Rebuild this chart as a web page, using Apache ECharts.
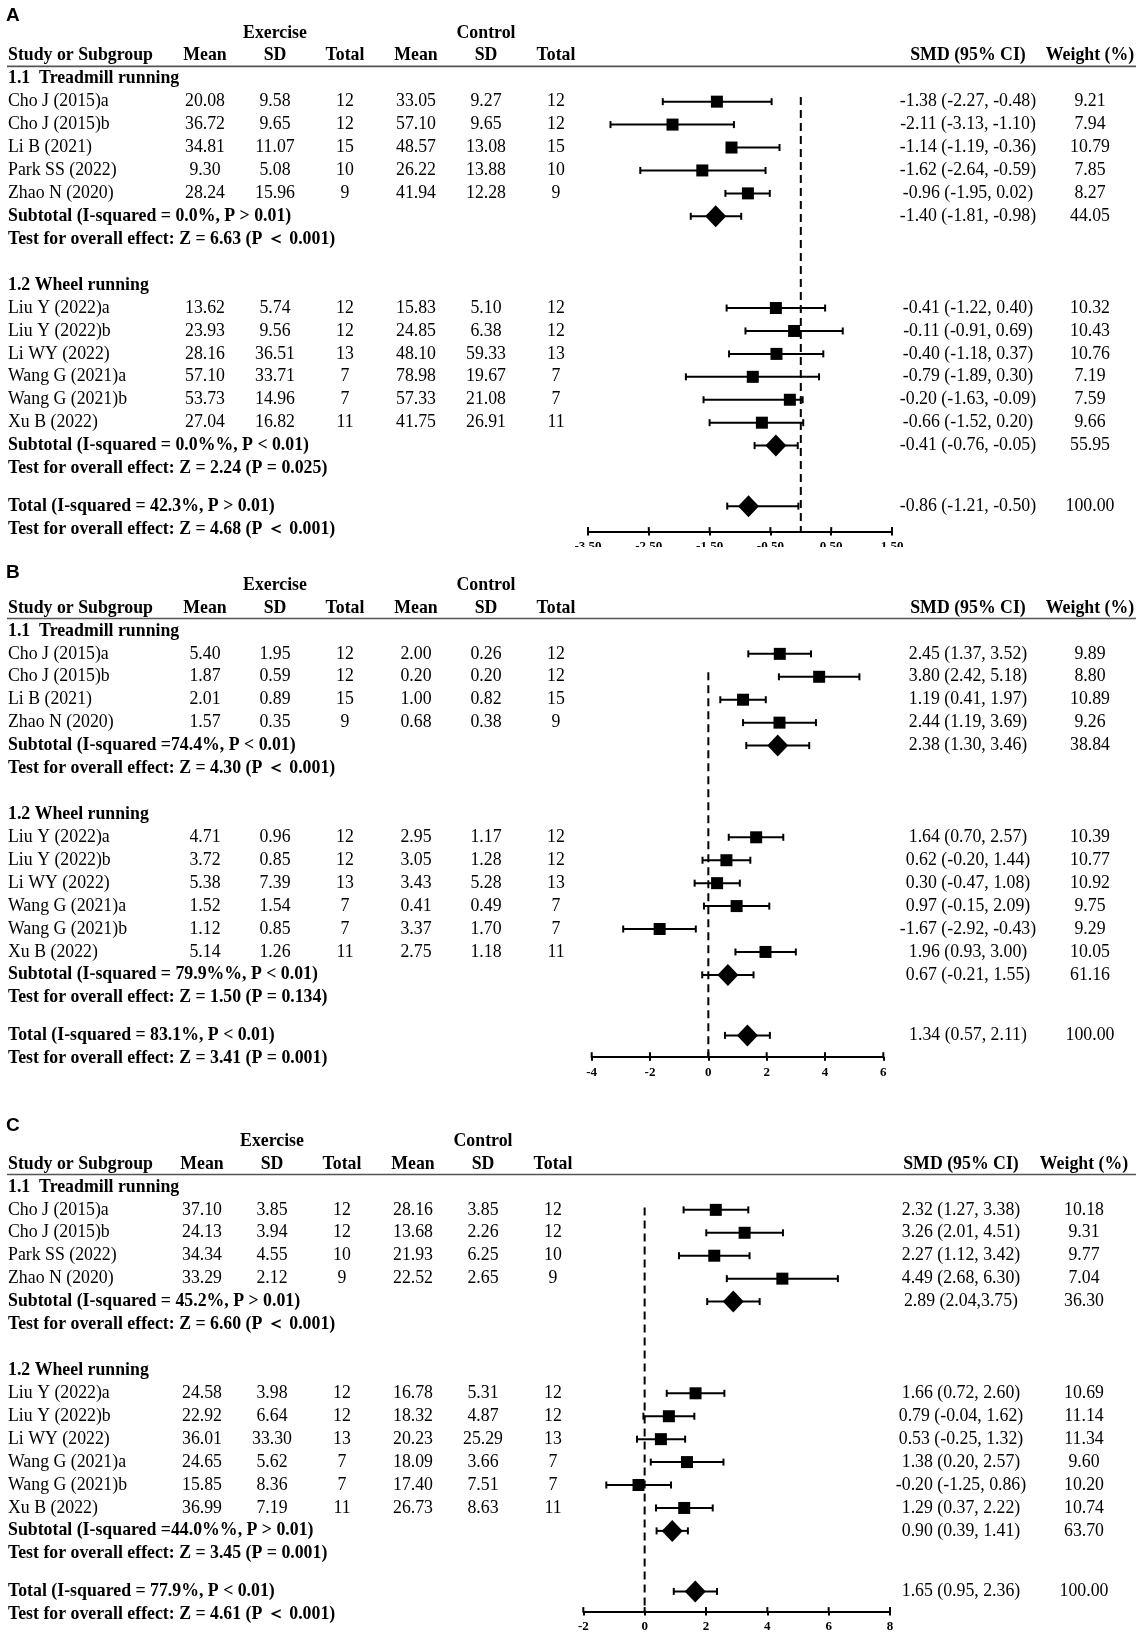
<!DOCTYPE html>
<html lang="en">
<head>
<meta charset="utf-8">
<title>Forest plot</title>
<script src="https://cdn.jsdelivr.net/npm/echarts@6/dist/echarts.min.js"></script>
<style>
    html, body { margin: 0; padding: 0; background: #ffffff; }
    #chart { width: 1139px; height: 1637px; }
</style>
</head>
<body>
<div id="chart"></div>
<script type="text/javascript">
// ---------- panel A ----------
var studiesA = ['Cho J (2015)a', 'Cho J (2015)b', 'Li B (2021)', 'Park SS (2022)', 'Zhao N (2020)',
    'Liu Y (2022)a', 'Liu Y (2022)b', 'Li WY (2022)', 'Wang G (2021)a', 'Wang G (2021)b', 'Xu B (2022)'];
var treadCountA = 5;
var exMeanA = ['20.08', '36.72', '34.81', '9.30', '28.24', '13.62', '23.93', '28.16', '57.10', '53.73', '27.04'];
var exSdA = ['9.58', '9.65', '11.07', '5.08', '15.96', '5.74', '9.56', '36.51', '33.71', '14.96', '16.82'];
var exNA = ['12', '12', '15', '10', '9', '12', '12', '13', '7', '7', '11'];
var ctMeanA = ['33.05', '57.10', '48.57', '26.22', '41.94', '15.83', '24.85', '48.10', '78.98', '57.33', '41.75'];
var ctSdA = ['9.27', '9.65', '13.08', '13.88', '12.28', '5.10', '6.38', '59.33', '19.67', '21.08', '26.91'];
var ctNA = ['12', '12', '15', '10', '9', '12', '12', '13', '7', '7', '11'];
var smdTextA = ['-1.38 (-2.27, -0.48)', '-2.11 (-3.13, -1.10)', '-1.14 (-1.19, -0.36)', '-1.62 (-2.64, -0.59)',
    '-0.96 (-1.95, 0.02)', '-0.41 (-1.22, 0.40)', '-0.11 (-0.91, 0.69)', '-0.40 (-1.18, 0.37)',
    '-0.79 (-1.89, 0.30)', '-0.20 (-1.63, -0.09)', '-0.66 (-1.52, 0.20)'];
var weightA = ['9.21', '7.94', '10.79', '7.85', '8.27', '10.32', '10.43', '10.76', '7.19', '7.59', '9.66'];
// where the marks sit in the drawing (a few differ from the printed numbers)
var estA = [-1.38, -2.11, -1.14, -1.62, -0.87, -0.41, -0.11, -0.40, -0.79, -0.18, -0.64];
var loA = [-2.27, -3.13, -1.20, -2.64, -1.24, -1.22, -0.91, -1.18, -1.89, -1.60, -1.50];
var hiA = [-0.48, -1.10, -0.35, -0.58, -0.51, 0.40, 0.69, 0.37, 0.30, 0.03, 0.04];
var pooledLabelA = ['Subtotal (I-squared = 0.0%, P > 0.01)', 'Subtotal (I-squared = 0.0%%, P < 0.01)', 'Total (I-squared = 42.3%, P > 0.01)'];
var testLabelA = ['Test for overall effect: Z = 6.63 (P ＜ 0.001)', 'Test for overall effect: Z = 2.24 (P = 0.025)', 'Test for overall effect: Z = 4.68 (P ＜ 0.001)'];
var pooledSmdA = ['-1.40 (-1.81, -0.98)', '-0.41 (-0.76, -0.05)', '-0.86 (-1.21, -0.50)'];
var pooledWeightA = ['44.05', '55.95', '100.00'];
var pooledEstA = [-1.40, -0.41, -0.86];
var pooledLoA = [-1.81, -0.76, -1.21];
var pooledHiA = [-0.98, -0.05, -0.04];
var ticksA = [-3.5, -2.5, -1.5, -0.5, 0.5, 1.5];

// ---------- panel B ----------
var studiesB = ['Cho J (2015)a', 'Cho J (2015)b', 'Li B (2021)', 'Zhao N (2020)',
    'Liu Y (2022)a', 'Liu Y (2022)b', 'Li WY (2022)', 'Wang G (2021)a', 'Wang G (2021)b', 'Xu B (2022)'];
var treadCountB = 4;
var exMeanB = ['5.40', '1.87', '2.01', '1.57', '4.71', '3.72', '5.38', '1.52', '1.12', '5.14'];
var exSdB = ['1.95', '0.59', '0.89', '0.35', '0.96', '0.85', '7.39', '1.54', '0.85', '1.26'];
var exNB = ['12', '12', '15', '9', '12', '12', '13', '7', '7', '11'];
var ctMeanB = ['2.00', '0.20', '1.00', '0.68', '2.95', '3.05', '3.43', '0.41', '3.37', '2.75'];
var ctSdB = ['0.26', '0.20', '0.82', '0.38', '1.17', '1.28', '5.28', '0.49', '1.70', '1.18'];
var ctNB = ['12', '12', '15', '9', '12', '12', '13', '7', '7', '11'];
var smdTextB = ['2.45 (1.37, 3.52)', '3.80 (2.42, 5.18)', '1.19 (0.41, 1.97)', '2.44 (1.19, 3.69)',
    '1.64 (0.70, 2.57)', '0.62 (-0.20, 1.44)', '0.30 (-0.47, 1.08)', '0.97 (-0.15, 2.09)',
    '-1.67 (-2.92, -0.43)', '1.96 (0.93, 3.00)'];
var weightB = ['9.89', '8.80', '10.89', '9.26', '10.39', '10.77', '10.92', '9.75', '9.29', '10.05'];
var estB = [2.45, 3.80, 1.19, 2.44, 1.64, 0.62, 0.30, 0.97, -1.67, 1.96];
var loB = [1.37, 2.42, 0.41, 1.19, 0.70, -0.20, -0.47, -0.15, -2.92, 0.93];
var hiB = [3.52, 5.18, 1.97, 3.69, 2.57, 1.44, 1.08, 2.09, -0.43, 3.00];
var pooledLabelB = ['Subtotal (I-squared =74.4%, P < 0.01)', 'Subtotal (I-squared = 79.9%%, P < 0.01)', 'Total (I-squared = 83.1%, P < 0.01)'];
var testLabelB = ['Test for overall effect: Z = 4.30 (P ＜ 0.001)', 'Test for overall effect: Z = 1.50 (P = 0.134)', 'Test for overall effect: Z = 3.41 (P = 0.001)'];
var pooledSmdB = ['2.38 (1.30, 3.46)', '0.67 (-0.21, 1.55)', '1.34 (0.57, 2.11)'];
var pooledWeightB = ['38.84', '61.16', '100.00'];
var pooledEstB = [2.38, 0.67, 1.34];
var pooledLoB = [1.30, -0.21, 0.57];
var pooledHiB = [3.46, 1.55, 2.11];
var ticksB = [-4, -2, 0, 2, 4, 6];

// ---------- panel C ----------
var studiesC = ['Cho J (2015)a', 'Cho J (2015)b', 'Park SS (2022)', 'Zhao N (2020)',
    'Liu Y (2022)a', 'Liu Y (2022)b', 'Li WY (2022)', 'Wang G (2021)a', 'Wang G (2021)b', 'Xu B (2022)'];
var treadCountC = 4;
var exMeanC = ['37.10', '24.13', '34.34', '33.29', '24.58', '22.92', '36.01', '24.65', '15.85', '36.99'];
var exSdC = ['3.85', '3.94', '4.55', '2.12', '3.98', '6.64', '33.30', '5.62', '8.36', '7.19'];
var exNC = ['12', '12', '10', '9', '12', '12', '13', '7', '7', '11'];
var ctMeanC = ['28.16', '13.68', '21.93', '22.52', '16.78', '18.32', '20.23', '18.09', '17.40', '26.73'];
var ctSdC = ['3.85', '2.26', '6.25', '2.65', '5.31', '4.87', '25.29', '3.66', '7.51', '8.63'];
var ctNC = ['12', '12', '10', '9', '12', '12', '13', '7', '7', '11'];
var smdTextC = ['2.32 (1.27, 3.38)', '3.26 (2.01, 4.51)', '2.27 (1.12, 3.42)', '4.49 (2.68, 6.30)',
    '1.66 (0.72, 2.60)', '0.79 (-0.04, 1.62)', '0.53 (-0.25, 1.32)', '1.38 (0.20, 2.57)',
    '-0.20 (-1.25, 0.86)', '1.29 (0.37, 2.22)'];
var weightC = ['10.18', '9.31', '9.77', '7.04', '10.69', '11.14', '11.34', '9.60', '10.20', '10.74'];
var estC = [2.32, 3.26, 2.27, 4.49, 1.66, 0.79, 0.53, 1.38, -0.20, 1.29];
var loC = [1.27, 2.01, 1.12, 2.68, 0.72, -0.04, -0.25, 0.20, -1.25, 0.37];
var hiC = [3.38, 4.51, 3.42, 6.30, 2.60, 1.62, 1.32, 2.57, 0.86, 2.22];
var pooledLabelC = ['Subtotal (I-squared = 45.2%, P > 0.01)', 'Subtotal (I-squared =44.0%%, P > 0.01)', 'Total (I-squared = 77.9%, P < 0.01)'];
var testLabelC = ['Test for overall effect: Z = 6.60 (P ＜ 0.001)', 'Test for overall effect: Z = 3.45 (P = 0.001)', 'Test for overall effect: Z = 4.61 (P ＜ 0.001)'];
var pooledSmdC = ['2.89 (2.04,3.75)', '0.90 (0.39, 1.41)', '1.65 (0.95, 2.36)'];
var pooledWeightC = ['36.30', '63.70', '100.00'];
var pooledEstC = [2.89, 0.90, 1.65];
var pooledLoC = [2.04, 0.39, 0.95];
var pooledHiC = [3.75, 1.41, 2.36];
var ticksC = [-2, 0, 2, 4, 6, 8];

var groupLabels = ['1.1  Treadmill running', '1.2 Wheel running'];
var headLabels = ['Study or Subgroup', 'Mean', 'SD', 'Total', 'Mean', 'SD', 'Total', 'SMD (95% CI)', 'Weight (%)'];
var armLabels = ['Exercise', 'Control'];

var panels = [
    {letter: 'A', studies: studiesA, nT: treadCountA, exMean: exMeanA, exSd: exSdA, exN: exNA, ctMean: ctMeanA, ctSd: ctSdA, ctN: ctNA,
        smd: smdTextA, weight: weightA, est: estA, lo: loA, hi: hiA, pLabel: pooledLabelA, tLabel: testLabelA,
        pSmd: pooledSmdA, pWeight: pooledWeightA, pEst: pooledEstA, pLo: pooledLoA, pHi: pooledHiA, ticks: ticksA,
        headY: 55.8, letterRow: -1.75, plotLeft: 588, plotRight: 892, axisRow: 20.75, zeroTop: 1.8, dx: 0, dxSmd: 0, dxW: 0, digits: 2},
    {letter: 'B', studies: studiesB, nT: treadCountB, exMean: exMeanB, exSd: exSdB, exN: exNB, ctMean: ctMeanB, ctSd: ctSdB, ctN: ctNB,
        smd: smdTextB, weight: weightB, est: estB, lo: loB, hi: hiB, pLabel: pooledLabelB, tLabel: testLabelB,
        pSmd: pooledSmdB, pWeight: pooledWeightB, pEst: pooledEstB, pLo: pooledLoB, pHi: pooledHiB, ticks: ticksB,
        headY: 608, letterRow: -1.53, plotLeft: 591.7, plotRight: 883.3, axisRow: 19.57, zeroTop: 2.8, dx: 0, dxSmd: 0, dxW: 0, digits: 0},
    {letter: 'C', studies: studiesC, nT: treadCountC, exMean: exMeanC, exSd: exSdC, exN: exNC, ctMean: ctMeanC, ctSd: ctSdC, ctN: ctNC,
        smd: smdTextC, weight: weightC, est: estC, lo: loC, hi: hiC, pLabel: pooledLabelC, tLabel: testLabelC,
        pSmd: pooledSmdC, pWeight: pooledWeightC, pEst: pooledEstC, pLo: pooledLoC, pHi: pooledHiC, ticks: ticksC,
        headY: 1164, letterRow: -1.65, plotLeft: 583.3, plotRight: 890, axisRow: 19.52, zeroTop: 1.9, dx: -3, dxSmd: -7, dxW: -6, digits: 0}
];

var ROW_H = 22.93;
var SERIF = '"Liberation Serif", "Times New Roman", serif';
var FONT = '17.8px ' + SERIF;
var FONT_B = 'bold 17.8px ' + SERIF;
var COL = {name: 8, exMean: 205, exSd: 275, exN: 345, ctMean: 416, ctSd: 486, ctN: 556, smd: 968, weight: 1090};

function buildCells(p) {
    var cells = [];
    var c = function (x, row, text, font, align) {
        cells.push({x: x, row: row, text: text, font: font, align: align || 'center'});
    };
    var x = {
        name: COL.name, exMean: COL.exMean + p.dx, exSd: COL.exSd + p.dx, exN: COL.exN + p.dx,
        ctMean: COL.ctMean + p.dx, ctSd: COL.ctSd + p.dx, ctN: COL.ctN + p.dx,
        smd: COL.smd + p.dxSmd, weight: COL.weight + p.dxW
    };
    c(6, p.letterRow, p.letter, 'bold 19px "Liberation Sans", Arial, sans-serif', 'left');
    c(x.exSd, -0.97, armLabels[0], FONT_B);
    c(x.ctSd, -0.97, armLabels[1], FONT_B);
    c(x.name, 0, headLabels[0], FONT_B, 'left');
    var hx = [x.exMean, x.exSd, x.exN, x.ctMean, x.ctSd, x.ctN, x.smd, x.weight];
    for (var h = 1; h < headLabels.length; h++) c(hx[h - 1], 0, headLabels[h], FONT_B);
    cells.push({rule: true, row: 0.46, x: 0});

    var nW = p.studies.length - p.nT;
    var rows = [];
    for (var i = 0; i < p.nT; i++) rows.push(2 + i);
    for (var j = 0; j < nW; j++) rows.push(6 + p.nT + j);
    p.rows = rows;
    var sub1 = 2 + p.nT, test1 = 3 + p.nT, g2 = 5 + p.nT;
    var sub2 = 6 + p.nT + nW, test2 = 7 + p.nT + nW;
    var total = test2 + 1.64, test3 = total + 1;
    p.pRows = [sub1, sub2, total];

    c(x.name, 1, groupLabels[0], FONT_B, 'left');
    c(x.name, g2, groupLabels[1], FONT_B, 'left');
    for (var k = 0; k < p.studies.length; k++) {
        var r = rows[k];
        c(x.name, r, p.studies[k], FONT, 'left');
        c(x.exMean, r, p.exMean[k], FONT);
        c(x.exSd, r, p.exSd[k], FONT);
        c(x.exN, r, p.exN[k], FONT);
        c(x.ctMean, r, p.ctMean[k], FONT);
        c(x.ctSd, r, p.ctSd[k], FONT);
        c(x.ctN, r, p.ctN[k], FONT);
        c(x.smd, r, p.smd[k], FONT);
        c(x.weight, r, p.weight[k], FONT);
    }
    var tRows = [test1, test2, test3];
    for (var q = 0; q < 3; q++) {
        c(x.name, p.pRows[q], p.pLabel[q], FONT_B, 'left');
        c(x.name, tRows[q], p.tLabel[q], FONT_B, 'left');
        c(x.smd, p.pRows[q], p.pSmd[q], FONT);
        c(x.weight, p.pRows[q], p.pWeight[q], FONT);
    }
    return cells;
}

function cellRenderer(cells) {
    return function (params, api) {
        var cell = cells[params.dataIndex];
        var pt = api.coord([cell.x, cell.row]);
        if (cell.rule) {
            var end = api.coord([1136, cell.row]);
            return {type: 'line', shape: {x1: 7, y1: pt[1], x2: end[0], y2: pt[1]},
                style: {stroke: '#555', lineWidth: 1.6}};
        }
        return {type: 'text', x: pt[0], y: pt[1],
            style: {text: cell.text, font: cell.font, fill: '#000', align: cell.align, verticalAlign: 'middle'}};
    };
}

function renderEffect(params, api) {
    var row = api.value(3);
    var mid = api.coord([api.value(0), row]);
    var lo = api.coord([api.value(1), row]);
    var hi = api.coord([api.value(2), row]);
    var ln = {stroke: '#000', lineWidth: 2};
    var kids = [
        {type: 'line', shape: {x1: lo[0], y1: mid[1], x2: hi[0], y2: mid[1]}, style: ln},
        {type: 'line', shape: {x1: lo[0], y1: mid[1] - 3.5, x2: lo[0], y2: mid[1] + 3.5}, style: ln},
        {type: 'line', shape: {x1: hi[0], y1: mid[1] - 3.5, x2: hi[0], y2: mid[1] + 3.5}, style: ln}
    ];
    if (api.value(4) === 1) {
        kids.push({type: 'polygon', shape: {points: [[mid[0] - 10.5, mid[1]], [mid[0], mid[1] - 11], [mid[0] + 10.5, mid[1]], [mid[0], mid[1] + 11]]},
            style: {fill: '#000'}});
    } else {
        kids.push({type: 'rect', shape: {x: mid[0] - 6, y: mid[1] - 6, width: 12, height: 12}, style: {fill: '#000'}});
    }
    return {type: 'group', children: kids};
}

function renderZero(params, api) {
    var a = api.coord([0, api.value(1)]);
    var b = api.coord([0, api.value(2)]);
    return {type: 'line', shape: {x1: a[0], y1: a[1], x2: b[0], y2: b[1]},
        style: {stroke: '#000', lineWidth: 2, lineDash: [8, 5]}};
}

// upper half of the axis ticks (the axis itself draws the lower half)
function renderTickTop(params, api) {
    var p = api.coord([api.value(0), api.value(1)]);
    return {type: 'line', shape: {x1: p[0], y1: p[1] - 4.5, x2: p[0], y2: p[1]},
        style: {stroke: '#000', lineWidth: 2}};
}

var grids = [], xAxes = [], yAxes = [], series = [];
panels.forEach(function (p, i) {
    var cells = buildCells(p);
    var top = p.headY - 2 * ROW_H;
    var height = (p.axisRow + 2) * ROW_H;
    grids.push({left: 0, width: 1139, top: top, height: height});
    grids.push({left: p.plotLeft, width: p.plotRight - p.plotLeft, top: top, height: height});
    var yRow = {type: 'value', min: -2, max: p.axisRow, inverse: true, show: false};
    yAxes.push(Object.assign({gridIndex: 2 * i}, yRow));
    yAxes.push(Object.assign({gridIndex: 2 * i + 1}, yRow));
    xAxes.push({type: 'value', gridIndex: 2 * i, min: 0, max: 1139, show: false});
    var tmin = p.ticks[0], tmax = p.ticks[p.ticks.length - 1], step = p.ticks[1] - p.ticks[0];
    xAxes.push({type: 'value', gridIndex: 2 * i + 1, position: 'bottom', min: tmin, max: tmax, interval: step,
        axisLine: {show: true, onZero: false, lineStyle: {color: '#000', width: 2}},
        axisTick: {show: true, inside: false, length: 4, lineStyle: {color: '#000', width: 2}},
        axisLabel: {show: true, margin: 9, color: '#000', fontFamily: SERIF, fontWeight: 'bold', fontSize: 13,
            formatter: (function (d) { return function (v) { return v.toFixed(d); }; })(p.digits)},
        splitLine: {show: false}});

    series.push({type: 'custom', xAxisIndex: 2 * i, yAxisIndex: 2 * i, silent: true, clip: false,
        data: cells.map(function (c, k) { return [c.x, c.row, k]; }), encode: {x: 0, y: 1},
        renderItem: cellRenderer(cells)});

    series.push({type: 'custom', xAxisIndex: 2 * i + 1, yAxisIndex: 2 * i + 1, silent: true, clip: false,
        data: [[0, p.zeroTop, p.axisRow]], encode: {x: 0, y: [1, 2]}, renderItem: renderZero});

    series.push({type: 'custom', xAxisIndex: 2 * i + 1, yAxisIndex: 2 * i + 1, silent: true, clip: false,
        data: p.ticks.map(function (t) { return [t, p.axisRow]; }), encode: {x: 0, y: 1}, renderItem: renderTickTop});

    var marks = [];
    for (var k = 0; k < p.est.length; k++) marks.push([p.est[k], p.lo[k], p.hi[k], p.rows[k], 0]);
    for (var q = 0; q < 3; q++) marks.push([p.pEst[q], p.pLo[q], p.pHi[q], p.pRows[q], 1]);
    series.push({type: 'custom', xAxisIndex: 2 * i + 1, yAxisIndex: 2 * i + 1, silent: true, clip: false,
        data: marks, encode: {x: [0, 1, 2], y: 3}, renderItem: renderEffect, z: 3});
});

var chart = echarts.init(document.getElementById('chart'));
chart.setOption({
    backgroundColor: '#ffffff',
    animation: false,
    grid: grids,
    xAxis: xAxes,
    yAxis: yAxes,
    series: series,
    // the source image cuts panel A's tick labels in half
    graphic: [{type: 'rect', z: 100, shape: {x: 560, y: 547, width: 360, height: 14}, style: {fill: '#ffffff'}}]
});
</script>
</body>
</html>
